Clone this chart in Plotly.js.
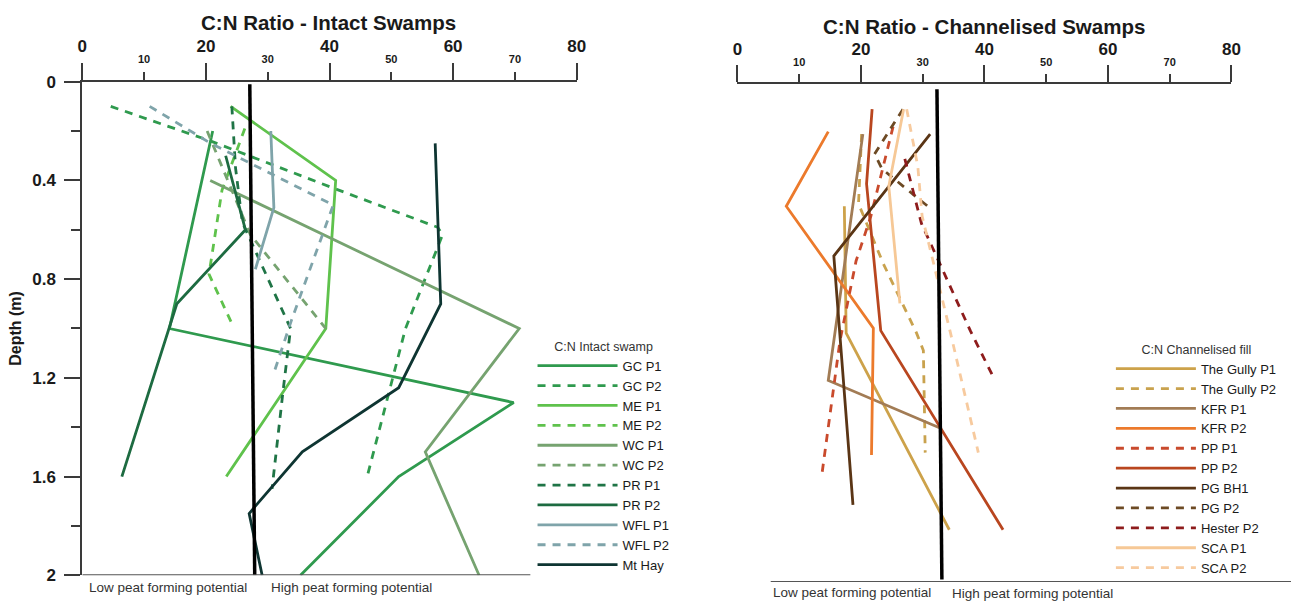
<!DOCTYPE html>
<html>
<head>
<meta charset="utf-8">
<script src="https://cdn.plot.ly/plotly-3.0.1.min.js"></script>
<style>
html,body{margin:0;padding:0;background:#fff;}
#chart{width:1291px;height:601px;}
</style>
</head>
<body>
<div id="chart"></div>
<script>
// ---------- tick labels ----------
const majorTicks = [0, 20, 40, 60, 80];
const minorTicks = [10, 30, 50, 70];
const depthTicks = [0, 0.4, 0.8, 1.2, 1.6, 2];
const depthLabels = ['0', '0.4', '0.8', '1.2', '1.6', '2'];
const depthMinor = [0.2, 0.6, 1.0, 1.4, 1.8];

// ---------- Intact swamps (C:N ratio vs depth m) ----------
const intactNames = ['GC P1','GC P2','ME P1','ME P2','WC P1','WC P2','PR P1','PR P2','WFL P1','WFL P2','Mt Hay'];
const gcP1_cn  = [21.1, 14.1, 69.8, 51.2, 35.3];
const gcP1_d   = [0.2, 1.0, 1.3, 1.6, 2.0];
const gcP2_cn  = [4.6, 20.7, 40.5, 57.5, 58.3, 52.3, 46.1];
const gcP2_d   = [0.1, 0.24, 0.43, 0.59, 0.62, 1.0, 1.6];
const meP1_cn  = [24.0, 41.0, 39.4, 23.3];
const meP1_d   = [0.1, 0.4, 1.0, 1.6];
const meP2_cn  = [26.3, 22.6, 20.5, 24.2];
const meP2_d   = [0.19, 0.44, 0.78, 0.98];
const wcP1_cn  = [20.7, 70.7, 55.5, 64.2];
const wcP1_d   = [0.4, 1.0, 1.5, 2.0];
const wcP2_cn  = [20.2, 27.2, 39.4];
const wcP2_d   = [0.2, 0.62, 1.0];
const prP1_cn  = [24.2, 24.8, 25.9, 33.7, 32.5, 30.7];
const prP1_d   = [0.1, 0.35, 0.57, 1.0, 1.25, 1.65];
const prP2_cn  = [23.2, 26.4, 15.3, 6.4];
const prP2_d   = [0.3, 0.6, 0.9, 1.6];
const wflP1_cn = [30.5, 31.0, 28.0];
const wflP1_d  = [0.2, 0.51, 0.76];
const wflP2_cn = [10.9, 20.8, 40.6, 33.8, 31.0];
const wflP2_d  = [0.1, 0.25, 0.5, 0.97, 1.18];
const mtHay_cn = [57.1, 58.0, 51.2, 35.6, 28.0, 27.0, 29.1];
const mtHay_d  = [0.25, 0.9, 1.24, 1.5, 1.72, 1.75, 2.0];
const intactRef_cn = [27.1, 27.9];
const intactRef_d  = [0.01, 2.0];

// ---------- Channelised swamps ----------
const chanNames = ['The Gully P1','The Gully P2','KFR P1','KFR P2','PP P1','PP P2','PG BH1','PG P2','Hester P2','SCA P1','SCA P2'];
const gullyP1_cn  = [17.3, 17.6, 34.3];
const gullyP1_d   = [0.49, 1.0, 1.79];
const gullyP2_cn  = [20.1, 19.6, 23.6, 29.0, 30.1, 30.4];
const gullyP2_d   = [0.2, 0.48, 0.72, 1.0, 1.07, 1.48];
const kfrP1_cn    = [20.3, 14.7, 32.7];
const kfrP1_d     = [0.2, 1.19, 1.38];
const kfrP2_cn    = [14.7, 7.9, 22.0, 21.7];
const kfrP2_d     = [0.19, 0.49, 0.98, 1.49];
const ppP1_cn     = [25.2, 21.6, 19.2, 16.6, 13.6];
const ppP1_d      = [0.17, 0.53, 0.71, 1.03, 1.58];
const ppP2_cn     = [21.8, 20.9, 23.2, 43.0];
const ppP2_d      = [0.1, 0.4, 0.99, 1.79];
const pgBH1_cn    = [31.2, 15.6, 18.7];
const pgBH1_d     = [0.2, 0.69, 1.69];
const pgP2_cn     = [26.8, 22.2, 23.4, 31.3];
const pgP2_d      = [0.1, 0.28, 0.34, 0.5];
const hesterP2_cn = [27.1, 29.8, 33.3, 37.7, 41.3];
const hesterP2_d  = [0.3, 0.56, 0.75, 0.99, 1.17];
const scaP1_cn    = [26.9, 24.5, 26.3];
const scaP1_d     = [0.1, 0.41, 0.88];
const scaP2_cn    = [27.4, 29.2, 29.9, 32.3, 34.5, 39.0];
const scaP2_d     = [0.1, 0.33, 0.53, 0.77, 1.0, 1.48];
const chanRef_cn  = [32.3, 33.1];
const chanRef_d   = [0.02, 1.99];

const DASH = '8px,7px';
function tr(name, x, y, color, dash, width, leg, xa, ya) {
  return {type:'scatter', mode:'lines', name:name, x:x, y:y,
    xaxis:xa, yaxis:ya, legend:leg, hoverinfo:'skip',
    line:{color:color, width:width, dash:dash}};
}
const intactData = [
  [gcP1_cn, gcP1_d, '#2f9a4e', 'solid'],
  [gcP2_cn, gcP2_d, '#2f9a4e', DASH],
  [meP1_cn, meP1_d, '#5fc24c', 'solid'],
  [meP2_cn, meP2_d, '#5fc24c', DASH],
  [wcP1_cn, wcP1_d, '#76a370', 'solid'],
  [wcP2_cn, wcP2_d, '#76a370', DASH],
  [prP1_cn, prP1_d, '#1f7446', DASH],
  [prP2_cn, prP2_d, '#1d6b41', 'solid'],
  [wflP1_cn, wflP1_d, '#7fa4aa', 'solid'],
  [wflP2_cn, wflP2_d, '#7fa4aa', DASH],
  [mtHay_cn, mtHay_d, '#0e3532', 'solid']
];
const chanData = [
  [gullyP1_cn, gullyP1_d, '#cda24a', 'solid'],
  [gullyP2_cn, gullyP2_d, '#c9a24e', DASH],
  [kfrP1_cn, kfrP1_d, '#a27c55', 'solid'],
  [kfrP2_cn, kfrP2_d, '#ec7a2c', 'solid'],
  [ppP1_cn, ppP1_d, '#c94a2c', DASH],
  [ppP2_cn, ppP2_d, '#b9461f', 'solid'],
  [pgBH1_cn, pgBH1_d, '#5a3515', 'solid'],
  [pgP2_cn, pgP2_d, '#6d4a24', DASH],
  [hesterP2_cn, hesterP2_d, '#8e1c1c', DASH],
  [scaP1_cn, scaP1_d, '#f6c896', 'solid'],
  [scaP2_cn, scaP2_d, '#f7ca9e', DASH]
];

const traces = [];
intactData.forEach((s, i) => traces.push(tr(intactNames[i], s[0], s[1], s[2], s[3], 2.8, 'legend', 'x', 'y')));
traces.push(Object.assign(tr('ref', intactRef_cn, intactRef_d, '#000', 'solid', 3.5, 'legend', 'x', 'y'), {showlegend:false}));
chanData.forEach((s, i) => traces.push(tr(chanNames[i], s[0], s[1], s[2], s[3], 2.8, 'legend2', 'x2', 'y2')));
traces.push(Object.assign(tr('ref2', chanRef_cn, chanRef_d, '#000', 'solid', 3.5, 'legend2', 'x2', 'y2'), {showlegend:false}));
// empty traces to activate the minor-label axes
traces.push({type:'scatter', x:[], y:[], xaxis:'x3', yaxis:'y', showlegend:false});
traces.push({type:'scatter', x:[], y:[], xaxis:'x4', yaxis:'y2', showlegend:false});

const FONT = 'Liberation Sans, Arial, sans-serif';
const AX = '#3a3a3a';
function majorX(domain, anchor) {
  return {domain:domain, anchor:anchor, side:'top', range:[0,80], tickmode:'array',
    tickvals:majorTicks, ticktext:majorTicks.map(String), ticks:'outside', ticklen:17, tickwidth:2,
    tickcolor:AX, showline:true, linewidth:2, linecolor:AX, showgrid:false, zeroline:false,
    tickfont:{size:17, weight:'bold', color:'#1a1a1a', family:FONT}, ticklabelstandoff:4, fixedrange:true};
}
function minorX(over, anchor) {
  return {overlaying:over, anchor:anchor, side:'top', range:[0,80], tickmode:'array',
    tickvals:minorTicks, ticktext:minorTicks.map(String), ticks:'outside', ticklen:9, tickwidth:2,
    tickcolor:AX, showline:false, showgrid:false, zeroline:false,
    tickfont:{size:11, weight:'bold', color:'#1a1a1a', family:FONT}, ticklabelstandoff:4, fixedrange:true};
}
function legendCfg(x, y, title) {
  return {x:x, y:y, xanchor:'left', yanchor:'top', bgcolor:'rgba(0,0,0,0)',
    title:{text:title, side:'top center', font:{size:12.5, color:'#333', family:FONT}},
    font:{size:13, color:'#1a1a1a', family:FONT}, itemwidth:80, tracegroupgap:0,
    itemclick:false, itemdoubleclick:false};
}
function note(x, y, text, size, bold, color) {
  return {xref:'paper', yref:'paper', x:x/1291, y:1-y/601, xanchor:'center', yanchor:'middle',
    text:text, showarrow:false,
    font:{size:size, weight:bold ? 'bold' : 'normal', color:color, family:FONT}};
}

const layout = {
  width:1291, height:601, margin:{l:0, r:0, t:0, b:0},
  paper_bgcolor:'#fff', plot_bgcolor:'rgba(0,0,0,0)',
  font:{family:FONT, color:'#1a1a1a'},
  xaxis: majorX([0.06375, 0.44671], 'y'),
  xaxis3: minorX('x', 'y'),
  xaxis2: majorX([0.57126, 0.95391], 'y2'),
  xaxis4: minorX('x2', 'y2'),
  yaxis: {domain:[0.04276, 0.86406], anchor:'x', range:[2,0], tickmode:'array',
    tickvals:depthTicks, ticktext:depthLabels, ticks:'outside', ticklen:16, tickwidth:2,
    tickcolor:AX, showline:true, linewidth:2, linecolor:AX, showgrid:false, zeroline:false,
    minor:{tickvals:depthMinor, ticks:'outside', ticklen:9, tickwidth:2, tickcolor:AX, showgrid:false},
    tickfont:{size:17, weight:'bold', color:'#1a1a1a', family:FONT}, ticklabelstandoff:5,
    title:{text:'Depth (m)', font:{size:16, weight:'bold', color:'#1a1a1a', family:FONT}, standoff:7},
    fixedrange:true},
  yaxis2: {domain:[0.03161, 0.85973], anchor:'x2', range:[2,0], visible:false, fixedrange:true},
  legend: legendCfg(0.4125, 0.4435, 'C:N Intact swamp'),
  legend2: legendCfg(0.8605, 0.4385, 'C:N Channelised fill'),
  shapes: [
    {type:'line', xref:'x', yref:'y', x0:0, x1:72.5, y0:2, y1:2, line:{color:'#555', width:2}},
    {type:'line', xref:'paper', yref:'y2', x0:0.597, x1:1, y0:2, y1:2, line:{color:'#555', width:2}}
  ],
  annotations: [
    note(329, 23, 'C:N Ratio - Intact Swamps', 20.5, true, '#1a1a1a'),
    note(984, 27, 'C:N Ratio - Channelised Swamps', 20.5, true, '#1a1a1a'),
    note(167.5, 587, 'Low peat forming potential', 13.5, false, '#333'),
    note(351, 587, 'High peat forming potential', 13.5, false, '#333'),
    note(852, 592, 'Low peat forming potential', 13.5, false, '#333'),
    note(1032, 593, 'High peat forming potential', 13.5, false, '#333')
  ],
  showlegend:true
};

Plotly.newPlot('chart', traces, layout, {staticPlot:true, displayModeBar:false});
</script>
</body>
</html>
